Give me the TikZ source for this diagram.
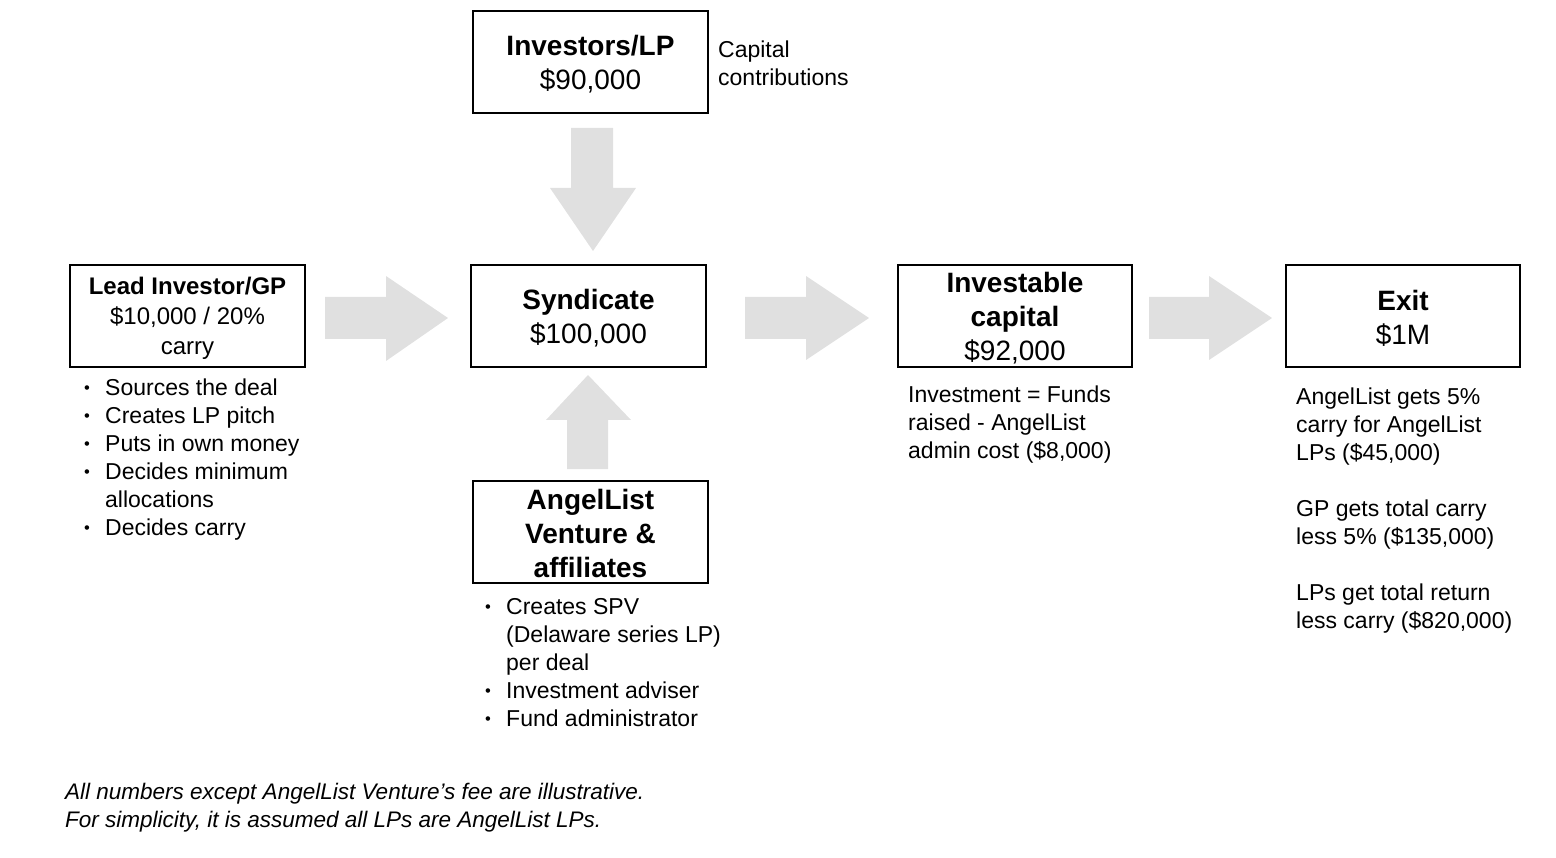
\documentclass[tikz,border=0pt]{standalone}
\usepackage{fontspec}
\setmainfont{Liberation Sans}
\usepackage{graphicx}
\definecolor{arrowgray}{RGB}{224,224,224}
\newcommand\bul{\makebox[21pt][l]{\raisebox{0.18ex}{\scalebox{0.72}{\textbullet}}}}
\newcommand\ind{\hspace*{21pt}}
\tikzset{
  box/.style={draw=black, line width=2pt, inner sep=0pt, align=center,
              minimum width=235pt, minimum height=102pt},
  boxtext/.style={inner sep=0pt, align=center},
  head/.style={font=\fontsize{28}{34}\selectfont},
  leadhead/.style={font=\fontsize{24}{30}\selectfont},
  body/.style={inner sep=0pt, anchor=north west, align=left,
               font=\fontsize{23}{28}\selectfont},
  blockarrow/.style={fill=arrowgray, draw=none},
}
\begin{document}
\begin{tikzpicture}[x=1pt,y=1pt]
\useasboundingbox (0,0) rectangle (1556,-858);

% boxes
\node[box] (inv) at (590.5,-62.5) {};
\node[boxtext, head] (invt) at ([yshift=-2pt]inv.center) {\textbf{Investors/LP}\\\$90,000};
\node[box] (lead) at (187.5,-316) {};
\node[boxtext, leadhead] (leadt) at ([yshift=-2pt]lead.center) {\textbf{Lead Investor/GP}\\\$10,000 / 20\%\\carry};
\node[box] (synd) at (588.5,-316.5) {};
\node[boxtext, head] (syndt) at ([yshift=-2pt]synd.center) {\textbf{Syndicate}\\\$100,000};
\node[box] (angel) at (590.5,-532) {};
\node[boxtext, head] (angelt) at ([yshift=-1pt]angel.center) {\textbf{AngelList}\\\textbf{Venture \&}\\\textbf{affiliates}};
\node[box, minimum width=234pt] (capital) at (1015,-316.5) {};
\node[boxtext, head] (capitalt) at ([yshift=-1.5pt]capital.center) {\textbf{Investable}\\\textbf{capital}\\\$92,000};
\node[box, minimum width=234pt] (exit) at (1403,-316.5) {};
\node[boxtext, head] (exitt) at ([yshift=-2pt]exit.center) {\textbf{Exit}\\\$1M};

% texts
\node[body] (contrib) at (718,-41) {Capital\\contributions};
\node[body] (leadlist) at (84,-379) {\bul Sources the deal\\\bul Creates LP pitch\\\bul Puts in own money\\\bul Decides minimum\\\ind allocations\\\bul Decides carry};
\node[body] (angellist) at (485,-598) {\bul Creates SPV\\\ind (Delaware series LP)\\\ind per deal\\\bul Investment adviser\\\bul Fund administrator};
\node[body] (captext) at (908,-386) {Investment = Funds\\raised - AngelList\\admin cost (\$8,000)};
\node[body] (exittext) at (1296,-388) {AngelList gets 5\%\\carry for AngelList\\LPs (\$45,000)\\[28pt]GP gets total carry\\less 5\% (\$135,000)\\[28pt]LPs get total return\\less carry (\$820,000)};
\node[body, font=\fontsize{22.5}{28}\selectfont\itshape] (note) at (65,-783) {All numbers except AngelList Venture’s fee are illustrative.\\For simplicity, it is assumed all LPs are AngelList LPs.};

% block arrows
\fill[blockarrow] (571,-128) -- (613,-128) -- (613,-188) -- (636,-188) -- (593,-251) -- (550,-188) -- (571,-188) -- cycle;
\fill[blockarrow] (567,-469) -- (608,-469) -- (608,-420) -- (631,-420) -- (588,-375) -- (546,-420) -- (567,-420) -- cycle;
\fill[blockarrow] (325,-297) -- (386,-297) -- (386,-276) -- (448,-318) -- (386,-361) -- (386,-339) -- (325,-339) -- cycle;
\fill[blockarrow] (745,-297) -- (806,-297) -- (806,-276) -- (869,-318) -- (806,-360) -- (806,-339) -- (745,-339) -- cycle;
\fill[blockarrow] (1149,-297) -- (1209,-297) -- (1209,-276) -- (1272,-318) -- (1209,-360) -- (1209,-339) -- (1149,-339) -- cycle;
\end{tikzpicture}
\end{document}
